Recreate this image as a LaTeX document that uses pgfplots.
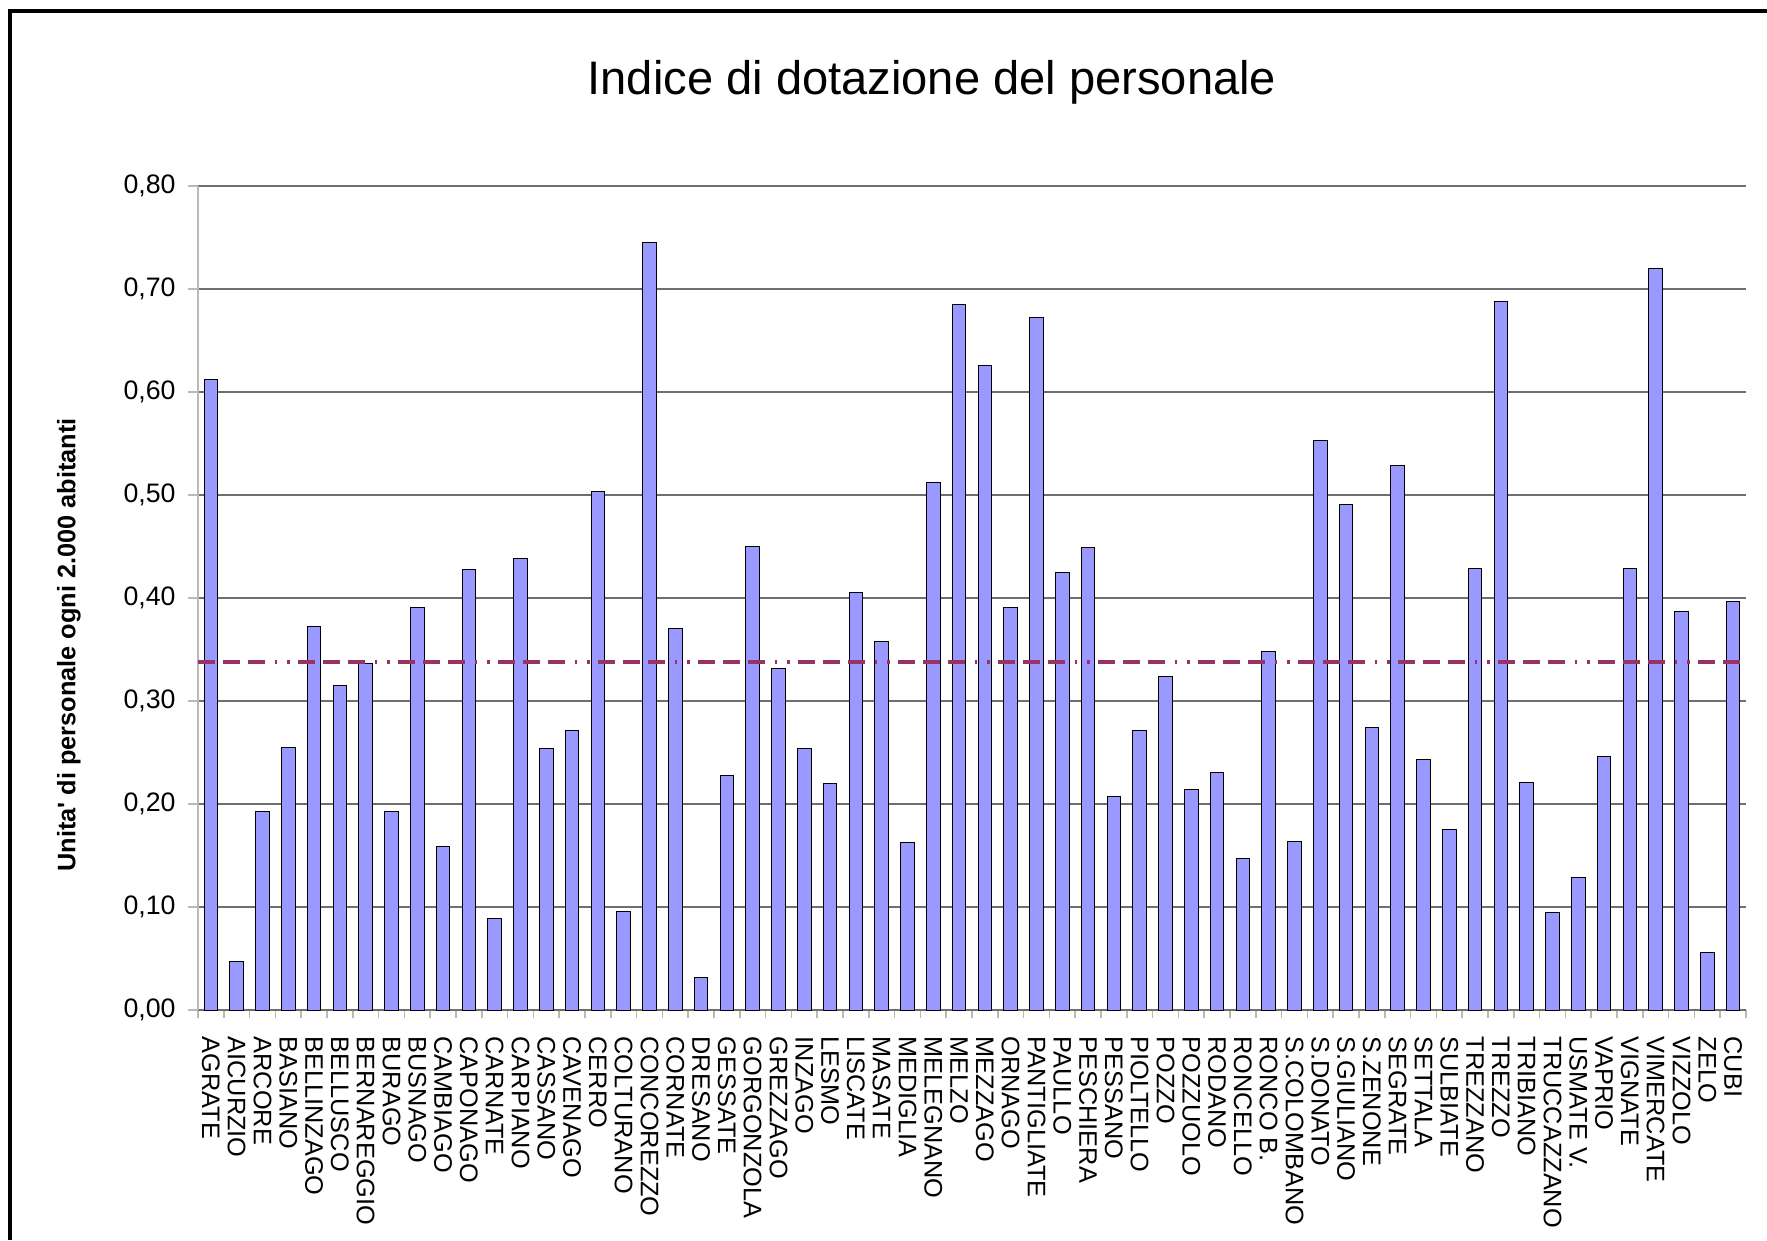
\documentclass[border=0pt]{standalone}
\usepackage{fontspec}
\setmainfont{Liberation Sans}
\newfontfamily\plainfont{Liberation Sans}
\usepackage{pgfplots}
\pgfplotsset{compat=1.18}
\definecolor{barfill}{RGB}{153,153,255}
\definecolor{meanc}{RGB}{153,51,102}
\definecolor{gridc}{RGB}{110,110,110}
\definecolor{axc}{RGB}{185,185,185}
\pgfplotstableread{
x y
0 0.612
1 0.047
2 0.193
3 0.255
4 0.372
5 0.315
6 0.336
7 0.193
8 0.391
9 0.159
10 0.428
11 0.089
12 0.438
13 0.254
14 0.271
15 0.503
16 0.096
17 0.745
18 0.370
19 0.032
20 0.228
21 0.450
22 0.332
23 0.254
24 0.220
25 0.405
26 0.358
27 0.163
28 0.512
29 0.685
30 0.626
31 0.391
32 0.672
33 0.425
34 0.449
35 0.207
36 0.271
37 0.324
38 0.214
39 0.231
40 0.147
41 0.348
42 0.164
43 0.553
44 0.491
45 0.274
46 0.529
47 0.243
48 0.175
49 0.429
50 0.688
51 0.221
52 0.095
53 0.129
54 0.246
55 0.429
56 0.720
57 0.387
58 0.056
59 0.397
}\datatable
\begin{document}
\begin{tikzpicture}
\useasboundingbox (0,0) rectangle (176.7mm,124mm);
\draw[line width=0.4mm] (0.95mm,0) -- (0.95mm,122.85mm) -- (176.7mm,122.85mm);
\node[anchor=base, font=\fontsize{13.4}{16}\selectfont] at (93.2mm,114.5mm) {Indice di dotazione del personale};
\node[rotate=90, font=\plainfont\bfseries\fontsize{7.2}{9}\selectfont] at (6.9mm,59.5mm) {Unita' di personale ogni 2.000 abitanti};
\begin{axis}[
  at={(19.8mm,23mm)}, anchor=south west,
  scale only axis, width=154.8mm, height=82.4mm,
  xmin=-0.5, xmax=59.5, ymin=0, ymax=0.8,
  ytick={0,0.1,0.2,0.3,0.4,0.5,0.6,0.7,0.8},
  xtick={0,...,59},
  minor xtick={-0.5,0.5,...,59.5},
  xticklabels={AGRATE,AICURZIO,ARCORE,BASIANO,BELLINZAGO,BELLUSCO,BERNAREGGIO,BURAGO,BUSNAGO,CAMBIAGO,CAPONAGO,CARNATE,CARPIANO,CASSANO,CAVENAGO,CERRO,COLTURANO,CONCOREZZO,CORNATE,DRESANO,GESSATE,GORGONZOLA,GREZZAGO,INZAGO,LESMO,LISCATE,MASATE,MEDIGLIA,MELEGNANO,MELZO,MEZZAGO,ORNAGO,PANTIGLIATE,PAULLO,PESCHIERA,PESSANO,PIOLTELLO,POZZO,POZZUOLO,RODANO,RONCELLO,RONCO B.,S.COLOMBANO,S.DONATO,S.GIULIANO,S.ZENONE,SEGRATE,SETTALA,SULBIATE,TREZZANO,TREZZO,TRIBIANO,TRUCCAZZANO,USMATE V.,VAPRIO,VIGNATE,VIMERCATE,VIZZOLO,ZELO,CUBI},
  axis lines*=left,
  x axis line style={draw=gridc, line width=0.2mm},
  y axis line style={draw=axc, line width=0.15mm},
  ymajorgrids,
  major grid style={draw=gridc, line width=0.2mm},
  tick align=outside,
  major tick length=1mm,
  minor tick length=0.8mm,
  major x tick style={draw=none},
  minor x tick style={draw=axc, line width=0.15mm},
  ytick style={draw=axc, line width=0.15mm},
  /pgf/number format/assume math mode=true,
  yticklabel style={font=\fontsize{7.6}{9}\selectfont, /pgf/number format/.cd, fixed, fixed zerofill, precision=2, use comma},
  xticklabel style={font=\fontsize{7.2}{9}\selectfont, rotate=-90, anchor=west, inner sep=0pt},
  xticklabel shift=1.6mm,
]
\addplot[ybar, bar width=1.35mm, bar shift=0pt, fill=barfill, draw=black, line width=0.1mm] table[x=x,y=y] {\datatable};
\addplot[meanc, line width=0.35mm, line cap=butt, dash pattern=on 1.67mm off 0.83mm on 1.67mm off 0.83mm on 1.67mm off 1.0mm on 0.25mm off 1.0mm on 0.25mm off 0.83mm] coordinates {(-0.5,0.338) (59.5,0.338)};
\end{axis}
\end{tikzpicture}
\end{document}
